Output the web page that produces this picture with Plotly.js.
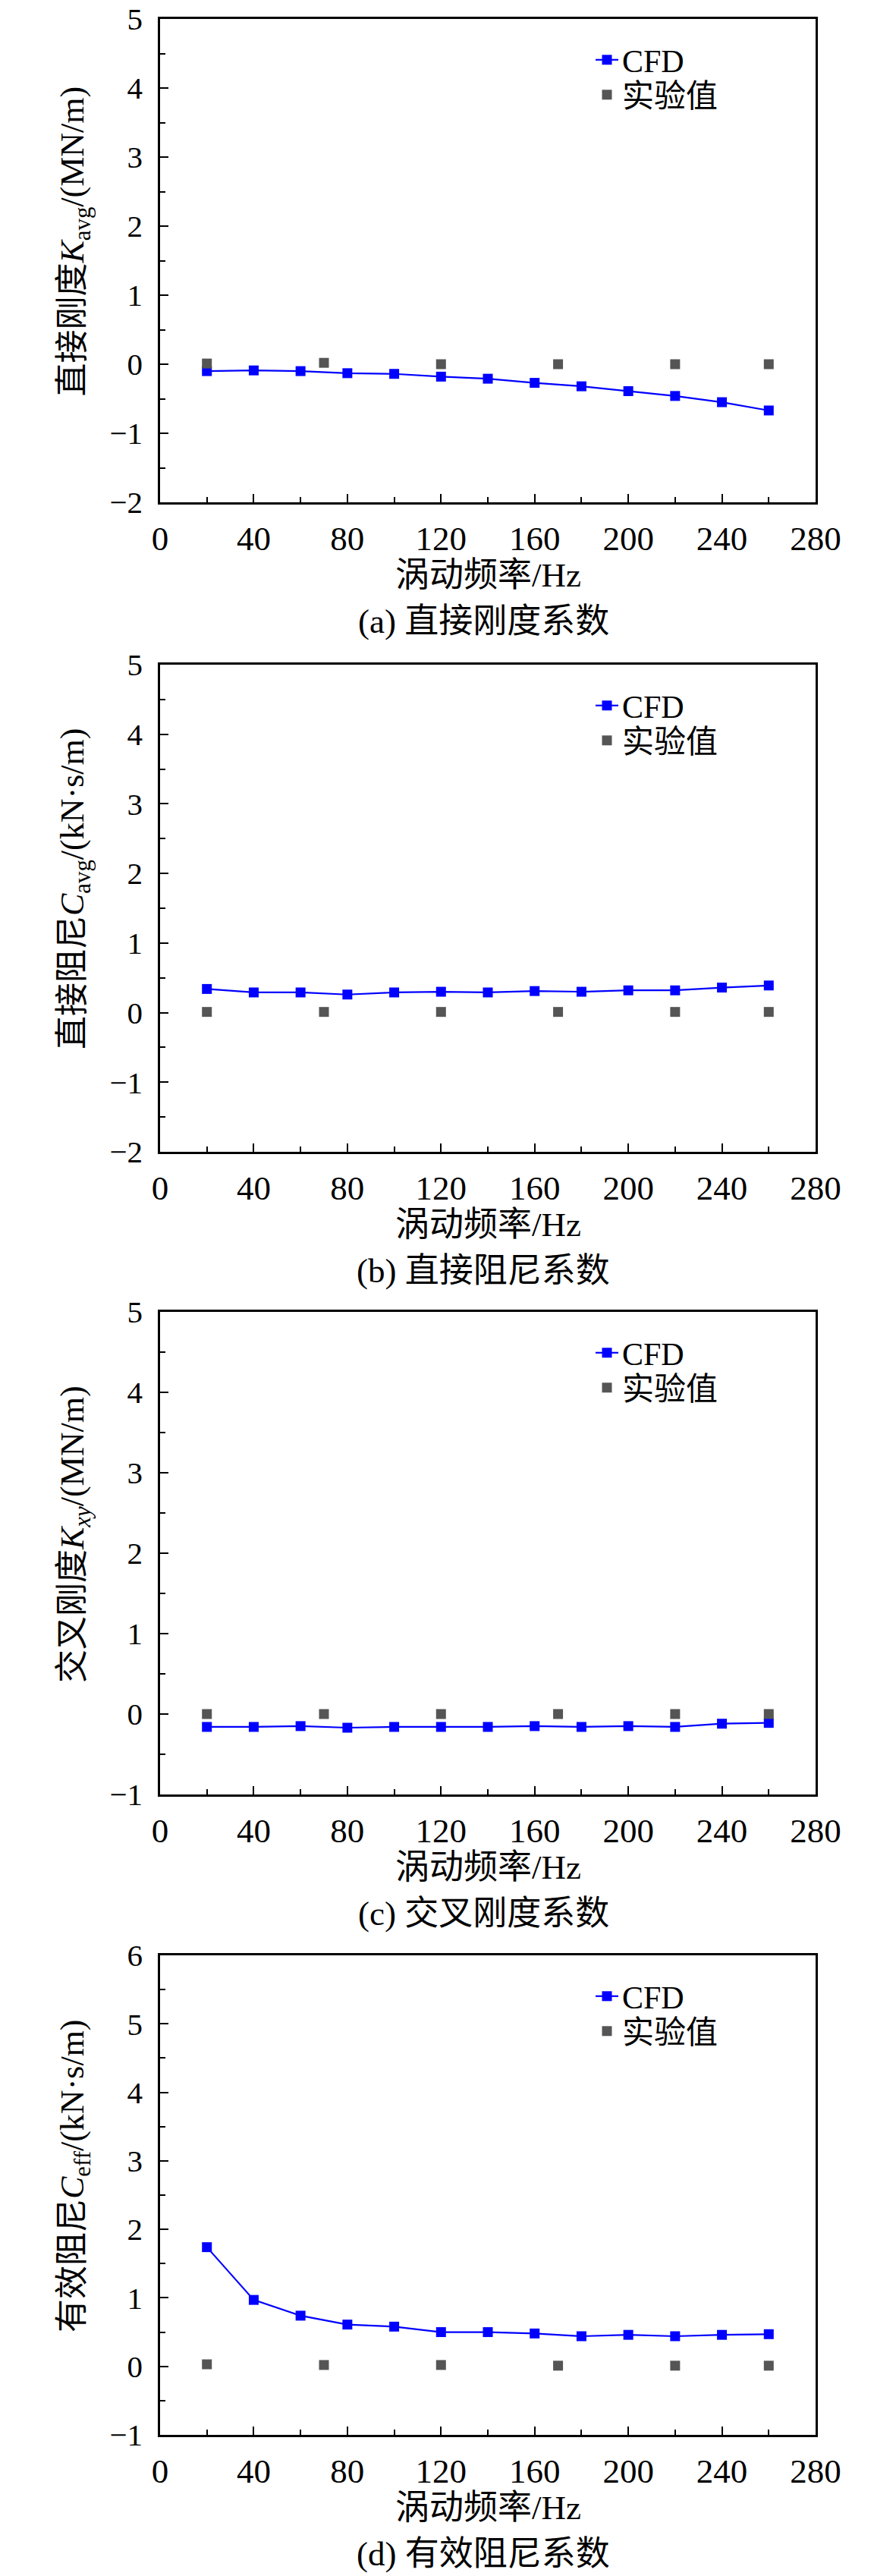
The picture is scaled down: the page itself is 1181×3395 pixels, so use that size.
<!DOCTYPE html>
<html>
<head>
<meta charset="utf-8">
<script src="https://cdn.plot.ly/plotly-3.0.1.min.js"></script>
<style>
  body { margin: 0; background: #fff; }
  #chart { width: 1181px; height: 3395px; }
</style>
</head>
<body>
<div id="chart"></div>
<script>
// 涡动频率 (Hz)
var freq = [20, 40, 60, 80, 100, 120, 140, 160, 180, 200, 220, 240, 260]
var expFreq = [20, 70, 120, 170, 220, 260]

// (a) 直接刚度 K_avg (MN/m)
var kavgCfd = [-0.10, -0.09, -0.10, -0.13, -0.14, -0.18, -0.21, -0.27, -0.32, -0.39, -0.46, -0.55, -0.67]
var kavgExp = [0.01, 0.02, 0, 0, 0, 0]

// (b) 直接阻尼 C_avg (kN·s/m)
var cavgCfd = [0.34, 0.29, 0.29, 0.26, 0.29, 0.30, 0.29, 0.31, 0.30, 0.32, 0.32, 0.36, 0.39]
var cavgExp = [0.01, 0.01, 0.01, 0.01, 0.01, 0.01]

// (c) 交叉刚度 K_xy (MN/m)
var kxyCfd = [-0.16, -0.16, -0.15, -0.17, -0.16, -0.16, -0.16, -0.15, -0.16, -0.15, -0.16, -0.12, -0.11]
var kxyExp = [0, 0, 0, 0, 0, 0]

// (d) 有效阻尼 C_eff (kN·s/m)
var ceffCfd = [1.74, 0.97, 0.74, 0.61, 0.58, 0.50, 0.50, 0.48, 0.44, 0.46, 0.44, 0.46, 0.47]
var ceffExp = [0.03, 0.02, 0.02, 0.01, 0.01, 0.01]

var yTitles = [
    '直接刚度<i>K</i><sub>avg</sub>/(MN/m)',
    '直接阻尼<i>C</i><sub>avg</sub>/(kN·s/m)',
    '交叉刚度<i>K</i><sub><i>xy</i></sub>/(MN/m)',
    '有效阻尼<i>C</i><sub>eff</sub>/(kN·s/m)'
]
var captions = ['(a) 直接刚度系数', '(b) 直接阻尼系数', '(c) 交叉刚度系数', '(d) 有效阻尼系数']
var yRanges = [[-2, 5], [-2, 5], [-1, 5], [-1, 6]]
var cfdSeries = [kavgCfd, cavgCfd, kxyCfd, ceffCfd]
var expSeries = [kavgExp, cavgExp, kxyExp, ceffExp]
var xTitle = '涡动频率/Hz'

var FONT = 'Liberation Serif, Times New Roman, Noto Sans CJK SC, serif'
var H = 3395, W = 1181
// pixel frame of each panel: top / bottom of plot area
var panels = [[25, 662], [876, 1518], [1729, 2365], [2577, 3209]]
var plotLeft = 211, plotRight = 1075

function py(p) { return 1 - p / H }
function px(p) { return p / W }

var data = []
var layout = {
    width: W, height: H,
    margin: {l: 0, r: 0, t: 0, b: 0},
    paper_bgcolor: '#fff', plot_bgcolor: '#fff',
    font: {family: FONT, size: 42, color: '#000'},
    showlegend: true,
    annotations: []
}

function legendBox(yPix) {
    return {
        x: px(780), y: py(yPix), xanchor: 'left', yanchor: 'middle',
        bgcolor: 'rgba(0,0,0,0)', borderwidth: 0,
        font: {family: FONT, size: 42, color: '#000'}
    }
}

panels.forEach(function (p, i) {
    var n = i === 0 ? '' : String(i + 1)
    var legA = 'legend' + (i === 0 ? '' : String(2 * i + 1))
    var legB = 'legend' + String(2 * i + 2)

    data.push({
        x: freq, y: cfdSeries[i], name: 'CFD',
        xaxis: 'x' + n, yaxis: 'y' + n, legend: legA,
        type: 'scatter', mode: 'lines+markers',
        line: {color: '#0000ff', width: 2.2},
        marker: {symbol: 'square', size: 13, color: '#0000ff'}
    })
    data.push({
        x: expFreq, y: expSeries[i], name: '实验值',
        xaxis: 'x' + n, yaxis: 'y' + n, legend: legB,
        type: 'scatter', mode: 'markers',
        marker: {symbol: 'square', size: 13, color: '#555555'}
    })

    layout['xaxis' + n] = {
        domain: [px(plotLeft), px(plotRight)], anchor: 'y' + n,
        range: [0, 280], tick0: 0, dtick: 40,
        ticks: 'inside', ticklen: 11, tickwidth: 2, tickcolor: '#000',
        minor: {dtick: 20, ticks: 'inside', ticklen: 7, tickwidth: 2, tickcolor: '#000'},
        showline: true, linewidth: 2.8, linecolor: '#000', mirror: true,
        showgrid: false, zeroline: false,
        tickfont: {family: FONT, size: 45}, ticklabelstandoff: 6
    }
    layout['yaxis' + n] = {
        domain: [py(p[1]), py(p[0])], anchor: 'x' + n,
        range: yRanges[i], dtick: 1,
        ticks: 'inside', ticklen: 11, tickwidth: 2, tickcolor: '#000',
        minor: {dtick: 0.5, ticks: 'inside', ticklen: 7, tickwidth: 2, tickcolor: '#000'},
        showline: true, linewidth: 2.8, linecolor: '#000', mirror: true,
        showgrid: false, zeroline: false,
        tickfont: {family: FONT, size: 41}, ticklabelstandoff: 12
    }
    layout[legA] = legendBox(p[0] + 54)
    layout[legB] = legendBox(p[0] + 100)

    var mid = (plotLeft + plotRight) / 2
    layout.annotations.push({
        xref: 'paper', yref: 'paper', x: px(mid), y: py(p[1] + 96),
        xanchor: 'center', yanchor: 'middle', showarrow: false,
        text: xTitle, font: {family: FONT, size: 45}
    })
    layout.annotations.push({
        xref: 'paper', yref: 'paper', x: px(mid - 6), y: py(p[1] + 157),
        xanchor: 'center', yanchor: 'middle', showarrow: false,
        text: captions[i], font: {family: FONT, size: 45}
    })
    layout.annotations.push({
        xref: 'paper', yref: 'paper', x: px(98), y: py((p[0] + p[1]) / 2 - 25),
        xanchor: 'center', yanchor: 'middle', showarrow: false, textangle: -90,
        text: yTitles[i], font: {family: FONT, size: 44}
    })
})

Plotly.newPlot('chart', data, layout, {displayModeBar: false, staticPlot: true})
</script>
</body>
</html>
